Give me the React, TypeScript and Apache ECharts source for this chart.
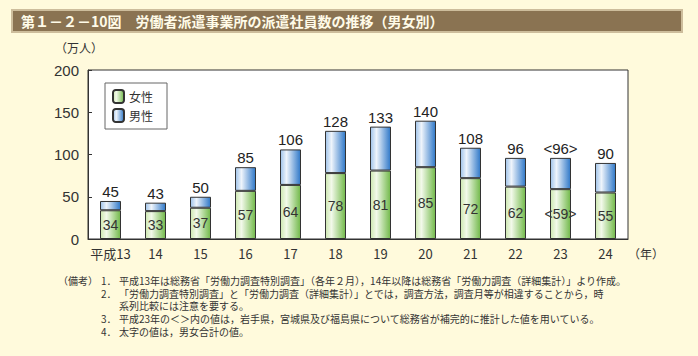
import React, { useEffect, useRef } from "react";
import * as echarts from "echarts";

const categories = ["平成13", "14", "15", "16", "17", "18", "19", "20", "21", "22", "23", "24"];
const female = [34, 33, 37, 57, 64, 78, 81, 85, 72, 62, 59, 55];
const totals = [45, 43, 50, 85, 106, 128, 133, 140, 108, 96, 96, 90];
const male = totals.map((t, i) => t - female[i]);
const bracketed = [false, false, false, false, false, false, false, false, false, false, true, false];
const yTicks = { min: 0, max: 200, interval: 50 };

const notes = [
  { label: "1．", text: "平成13年は総務省「労働力調査特別調査」（各年２月），14年以降は総務省「労働力調査（詳細集計）」より作成。" },
  { label: "2．", text: "「労働力調査特別調査」と「労働力調査（詳細集計）」とでは，調査方法，調査月等が相違することから，時" },
  { label: "", text: "系列比較には注意を要する。" },
  { label: "3．", text: "平成23年の＜＞内の値は，岩手県，宮城県及び福島県について総務省が補完的に推計した値を用いている。" },
  { label: "4．", text: "太字の値は，男女合計の値。" },
];

const JP = '"Noto Sans CJK JP", sans-serif';
const NUM = '"Liberation Sans", Arial, sans-serif';

export default function App() {
  const ref = useRef<HTMLDivElement>(null);
  useEffect(() => {
    if (!ref.current) return;
    const chart = echarts.init(ref.current, null, { renderer: "svg" });
    const green = new echarts.graphic.LinearGradient(0, 0, 1, 0, [
      { offset: 0, color: "#cde8b0" },
      { offset: 0.3, color: "#f2f9ea" },
      { offset: 1, color: "#72b94a" },
    ]);
    const blue = new echarts.graphic.LinearGradient(0, 0, 1, 0, [
      { offset: 0, color: "#9fc3ea" },
      { offset: 0.3, color: "#eef4fb" },
      { offset: 1, color: "#2f78c8" },
    ]);
    const noteGraphics: any[] = [];
    const noteY = [280, 293, 305.5, 318.5, 331.5];
    const noteStyle = { font: `10px ${JP}`, fill: "#333", lineHeight: 11, verticalAlign: "middle" };
    notes.forEach((n, i) => {
      if (n.label)
        noteGraphics.push({
          type: "text",
          x: 101,
          y: noteY[i],
          style: { ...noteStyle, text: n.label },
        });
      noteGraphics.push({
        type: "text",
        x: 119,
        y: noteY[i],
        style: { ...noteStyle, text: n.text },
      });
    });
    chart.setOption({
      animation: false,
      backgroundColor: "#fffadc",
      grid: {
        left: 88,
        top: 70,
        width: 540,
        height: 169,
        show: true,
        backgroundColor: "#ffffff",
        borderColor: "#333",
        borderWidth: 1,
      },
      legend: {
        orient: "vertical",
        left: 105,
        top: 83,
        data: ["女性", "男性"],
        backgroundColor: "#fff",
        borderColor: "#666",
        borderWidth: 1,
        padding: [6, 14, 6, 7],
        itemWidth: 11,
        itemHeight: 13,
        itemGap: 4,
        textStyle: { fontFamily: JP, fontSize: 12, color: "#333" },
      },
      xAxis: {
        type: "category",
        data: categories,
        axisLine: { lineStyle: { color: "#333" } },
        axisTick: { inside: true, length: 4, lineStyle: { color: "#333" } },
        axisLabel: { interval: 0, fontFamily: JP, fontSize: 13, color: "#333", margin: 8 },
      },
      yAxis: {
        type: "value",
        ...yTicks,
        axisLine: { show: true, lineStyle: { color: "#333" } },
        axisTick: { show: true, inside: true, length: 4, lineStyle: { color: "#333" } },
        splitLine: { show: false },
        axisLabel: { fontFamily: NUM, fontSize: 15, color: "#333", margin: 9 },
      },
      series: [
        {
          name: "女性",
          type: "bar",
          stack: "a",
          barWidth: 21,
          data: female,
          itemStyle: { color: green, borderColor: "#333", borderWidth: 1 },
          label: {
            show: true,
            position: "inside",
            fontFamily: NUM,
            fontSize: 14,
            color: "#333",
            formatter: (p: any) => (bracketed[p.dataIndex] ? `<${p.value}>` : `${p.value}`),
          },
        },
        {
          name: "男性",
          type: "bar",
          stack: "a",
          barWidth: 21,
          data: male,
          itemStyle: { color: blue, borderColor: "#333", borderWidth: 1 },
          label: {
            show: true,
            position: "top",
            distance: 2,
            fontFamily: NUM,
            fontSize: 15,
            color: "#222",
            formatter: (p: any) =>
              bracketed[p.dataIndex] ? `<${totals[p.dataIndex]}>` : `${totals[p.dataIndex]}`,
          },
        },
      ],
      graphic: [
        {
          type: "rect",
          shape: { x: 12, y: 10, width: 670, height: 22 },
          style: { fill: "#8a7352", stroke: "#cdbd9c", lineWidth: 2 },
        },
        {
          type: "text",
          x: 21,
          y: 21,
          style: {
            text: "第１－２－10図　労働者派遣事業所の派遣社員数の推移（男女別）",
            font: `bold 14px ${JP}`,
            fill: "#fffbe8",
            verticalAlign: "middle",
          },
        },
        {
          type: "text",
          x: 55,
          y: 47,
          style: { text: "（万人）", font: `12px ${JP}`, fill: "#333", verticalAlign: "middle" },
        },
        {
          type: "text",
          x: 628,
          y: 253,
          style: { text: "（年）", font: `12px ${JP}`, fill: "#333", verticalAlign: "middle" },
        },
        {
          type: "text",
          x: 58,
          y: noteY[0],
          style: { ...noteStyle, text: "（備考）" },
        },
        ...noteGraphics,
      ],
    });
    return () => chart.dispose();
  }, []);
  return <div ref={ref} style={{ width: 698, height: 356, position: "absolute", left: 0, top: 0 }} />;
}
